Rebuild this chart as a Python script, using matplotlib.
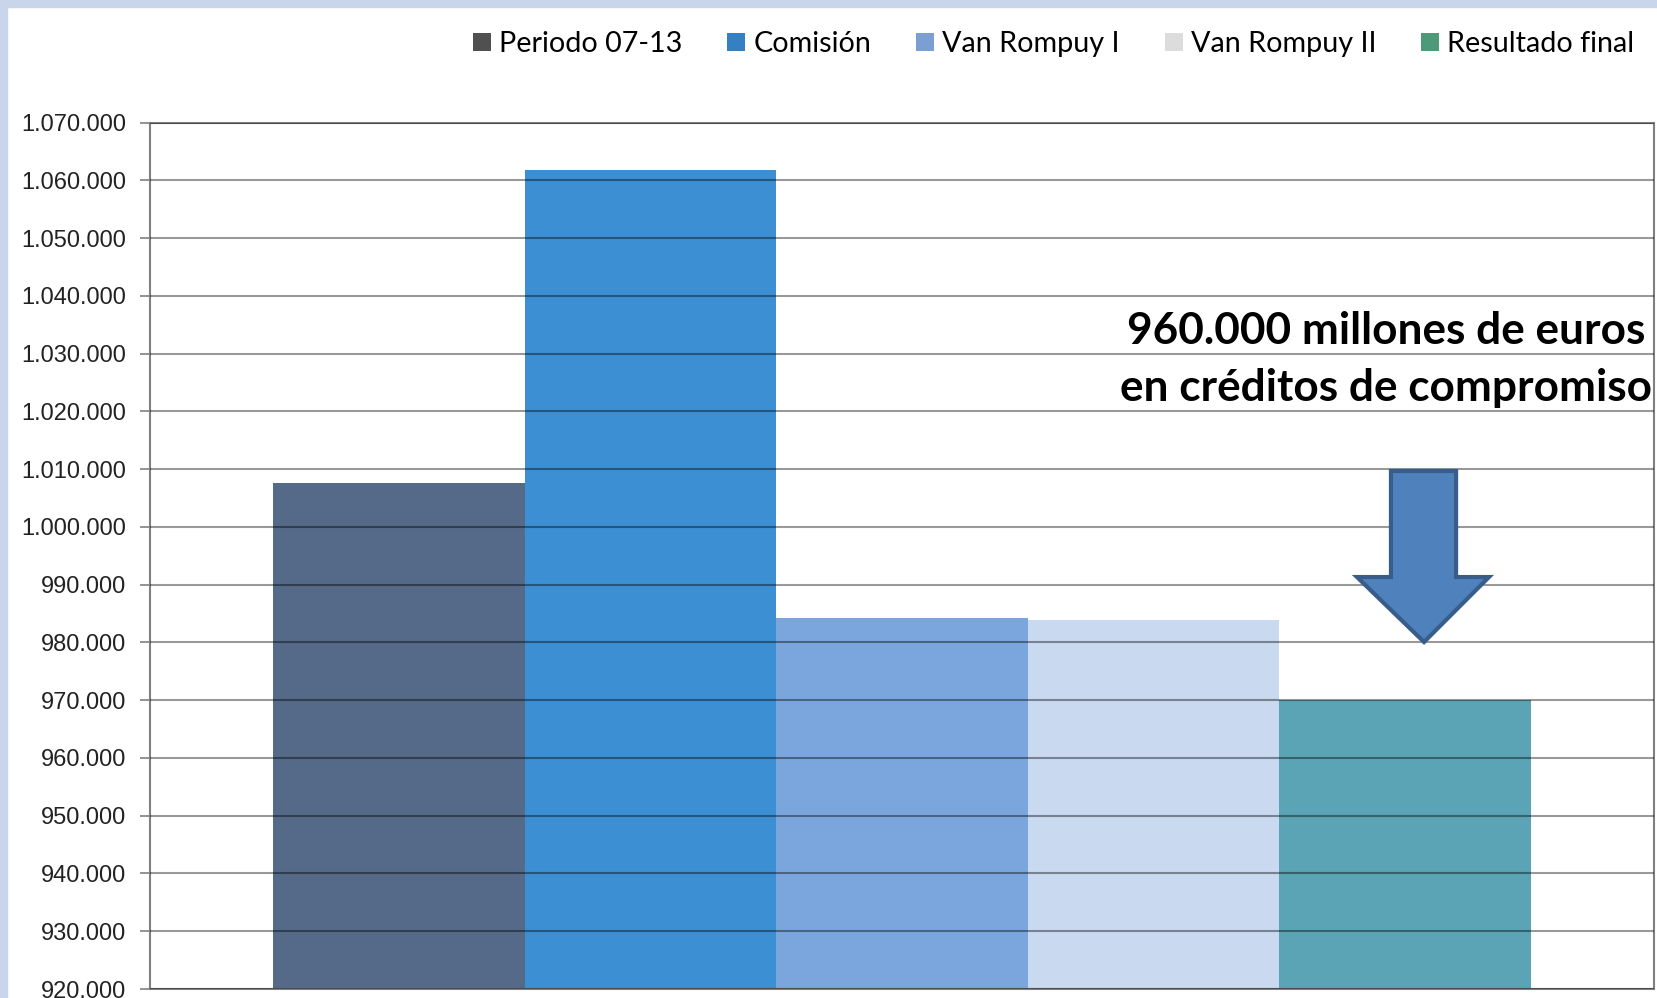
# -*- coding: utf-8 -*-
"""
Marco financiero plurianual: comparación de propuestas
(créditos de compromiso, millones de euros)
"""
import numpy as np
import matplotlib.pyplot as plt
from matplotlib.font_manager import FontProperties
from matplotlib.patches import Patch, Polygon, Rectangle
from matplotlib.textpath import TextPath
from matplotlib.ticker import FuncFormatter

# datos
series = ["Periodo 07-13", "Comisión", "Van Rompuy I", "Van Rompuy II", "Resultado final"]
values = [1007650, 1061800, 984300, 983900, 970000]
bar_colors = ["#546a88", "#3b8fd2", "#7ba6dd", "#c9daf0", "#5ba4b5"]
legend_colors = ["#505050", "#3580c3", "#7b9fd0", "#dcdcdc", "#4d9a78"]
y_ticks = np.arange(920000, 1070001, 10000)
note_lines = ["960.000 millones de euros", "en créditos de compromiso"]

plt.rcParams["font.family"] = ["Liberation Sans", "DejaVu Sans"]


def fit_size(text, target_px, prop):
    # tamaño de letra (pt) para que el texto ocupe target_px a 100 dpi
    w = TextPath((0, 0), text, size=1, prop=prop).get_extents().width
    return target_px * 0.72 / w


W, H = 1657, 998
fig = plt.figure(figsize=(W / 100, H / 100), dpi=100)
fig.patch.set_facecolor("white")

# borde azul claro de la diapositiva (arriba e izquierda)
fig.patches.append(Rectangle((0, 1 - 7 / H), 1, 7 / H, transform=fig.transFigure,
                             color="#c8d5ea", zorder=0))
fig.patches.append(Rectangle((0, 0), 7 / W, 1, transform=fig.transFigure,
                             color="#c8d5ea", zorder=0))

ax = fig.add_axes([150 / W, 9 / H, 1504 / W, 866.4 / H])
x = np.arange(len(series))
ax.bar(x, values, width=1.0, color=bar_colors, zorder=1)

ax.set_xlim(-0.989, len(series) - 1 + 0.989)
ax.set_ylim(y_ticks[0], y_ticks[-1])
ax.set_yticks(y_ticks)
ax.yaxis.set_major_formatter(FuncFormatter(lambda v, p: f"{int(v):,}".replace(",", ".")))
ax.set_xticks([])
ax.grid(axis="y", color="black", alpha=0.4, lw=1.5)
ax.set_axisbelow(False)
for s in ax.spines.values():
    s.set_color("#808080")
    s.set_linewidth(1.5)
ax.tick_params(axis="y", length=7, width=1.2, color="#808080", labelsize=17,
               labelcolor="#222222", pad=10)

# leyenda
leg_prop = FontProperties(family="Lato")
leg_size = fit_size(series[0], 179, leg_prop)
leg_px = leg_size * 100 / 72
handles = [Patch(facecolor=c, edgecolor="none") for c in legend_colors]
fig.legend(handles, series, loc="center left", bbox_to_anchor=(473 / W, 1 - 44 / H),
           ncol=5, frameon=False, borderpad=0, borderaxespad=0,
           handlelength=18 / leg_px, handleheight=18 / leg_px, handletextpad=8 / leg_px,
           columnspacing=45 / leg_px, prop={"family": "Lato", "size": leg_size})

# nota y flecha
note_prop = FontProperties(family="Lato", weight="bold")
note_size = fit_size(note_lines[0], 515, note_prop)
ax.text(0.822, 0.7595, note_lines[0], transform=ax.transAxes, ha="center", va="center",
        fontsize=note_size, fontfamily="Lato", fontweight="bold", color="black", zorder=6)
ax.text(0.822, 0.6937, note_lines[1], transform=ax.transAxes, ha="center", va="center",
        fontsize=note_size, fontfamily="Lato", fontweight="bold", color="black", zorder=6)

arrow_pts = [(0.8251, 0.5979), (0.8684, 0.5979), (0.8684, 0.4755), (0.8903, 0.4755),
             (0.8471, 0.4005), (0.8025, 0.4755), (0.8251, 0.4755)]
ax.add_patch(Polygon(arrow_pts, closed=True, transform=ax.transAxes, facecolor="#4f81bd",
                     edgecolor="#385d8a", lw=3, joinstyle="miter", zorder=5))

plt.savefig("out.png", dpi=100)
